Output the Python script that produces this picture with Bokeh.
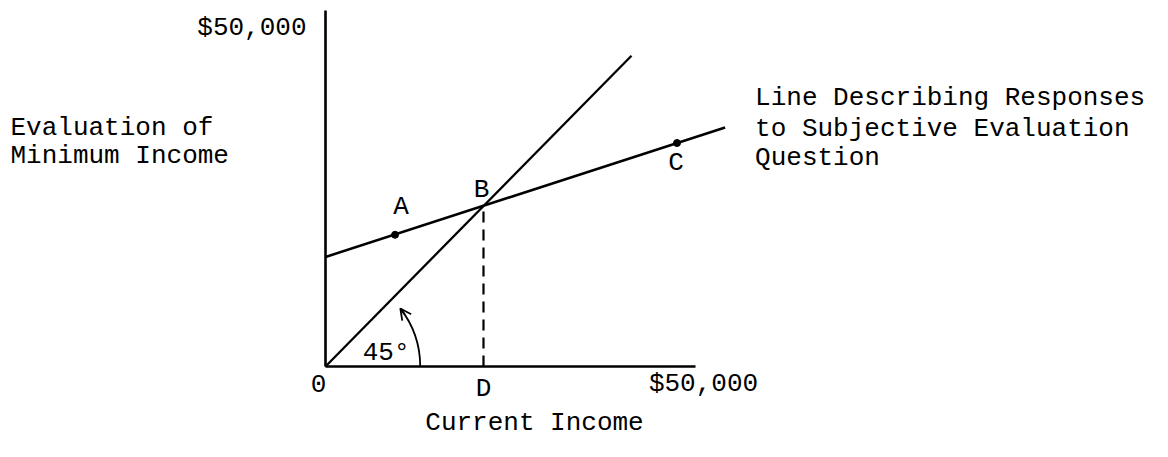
import math
from bokeh.plotting import figure
from bokeh.models import Range1d, Arrow, OpenHead, ColumnDataSource
from bokeh.core.properties import value
from bokeh.embed import file_html
from bokeh.resources import INLINE

# --- data (thousands of dollars) ---
axis_max_x = 50.0
axis_max_y = 48.1
line45_x = [0.0, 41.35]
line45_y = [0.0, 42.0]
subj_x = [0.0, 54.0]
subj_y = [14.8, 32.3]
pt_x = [9.4, 47.5]      # A, C
pt_y = [17.8, 30.2]
b_x, b_y = 21.35, 21.7  # B (and D below it)
arc_radius = 12.8
arc_end = 0.66          # radians

FONT = value("Liberation Mono")
FS = "26px"
PX = 7.4        # pixels per thousand
OX, OY = 325, 366  # origin position in pixels
W, H = 1152, 441

p = figure(width=W, height=H, x_range=Range1d(-OX / PX, (W - OX) / PX),
           y_range=Range1d(-(H - OY) / PX, OY / PX), x_axis_type=None, y_axis_type=None,
           min_border=0, outline_line_color=None, toolbar_location=None,
           output_backend="svg")
p.grid.visible = False

# axes
p.segment(x0=[0, 0], y0=[0, 0], x1=[axis_max_x, 0], y1=[0, axis_max_y],
          line_color="black", line_width=2.6)
# 45 degree line
p.line(line45_x, line45_y, line_color="black", line_width=2.3)
# subjective evaluation line
p.line(subj_x, subj_y, line_color="black", line_width=2.5)
# dashed drop to D
p.line([b_x, b_x], [0, b_y], line_color="black", line_width=2.2, line_dash="11 7")
# points
p.scatter(pt_x, pt_y, size=7, color="black")

# angle arc + arrowhead
p.arc(x=0, y=0, radius=arc_radius, start_angle=0, end_angle=arc_end,
      line_color="black", line_width=1.8)
a0 = arc_end - 0.08
p.add_layout(Arrow(end=OpenHead(size=11, line_width=1.8, line_color="black"),
                   x_start=arc_radius * math.cos(a0), y_start=arc_radius * math.sin(a0),
                   x_end=arc_radius * math.cos(arc_end), y_end=arc_radius * math.sin(arc_end),
                   line_width=1.8, line_color="black"))

txt = dict(text_font=FONT, text_font_size=FS, text_baseline="middle", text_color="black")

# point labels
lab = ColumnDataSource(dict(x=[pt_x[0], b_x, pt_x[1]], y=[pt_y[0], b_y, pt_y[1]],
                            t=["A", "B", "C"], dx=[6, -2, -1], dy=[-28, -16, 20]))
p.text(x="x", y="y", text="t", x_offset="dx", y_offset="dy", source=lab,
       text_align="center", **txt)

# axis tick labels
ticks = ColumnDataSource(dict(x=[0, b_x, axis_max_x], y=[0, 0, 0],
                              t=["0", "D", "$50,000"], dx=[-7, 0, 8], dy=[17, 22, 17]))
p.text(x="x", y="y", text="t", x_offset="dx", y_offset="dy", source=ticks,
       text_align="center", **txt)
p.text(x=[0], y=[axis_max_y], text=["$50,000"], x_offset=-19, y_offset=17,
       text_align="right", **txt)
p.text(x=[arc_radius * 0.64], y=[0], text=["45°"], y_offset=-14,
       text_align="center", **txt)

# axis titles
p.text(x=[axis_max_x / 2], y=[0], text=["Current Income"], x_offset=24, y_offset=56,
       text_align="center", **txt)
p.text(x=[0, 0], y=[0, 0], text=["Evaluation of", "Minimum Income"],
       x_offset=[-315, -315], y_offset=[-239, -211], text_align="left", **txt)
p.text(x=[subj_x[1]] * 3, y=[subj_y[1]] * 3,
       text=["Line Describing Responses", "to Subjective Evaluation", "Question"],
       x_offset=[30, 30, 30], y_offset=[-29, 2, 31], text_align="left", **txt)

open("out.html", "w").write(file_html(p, INLINE))
